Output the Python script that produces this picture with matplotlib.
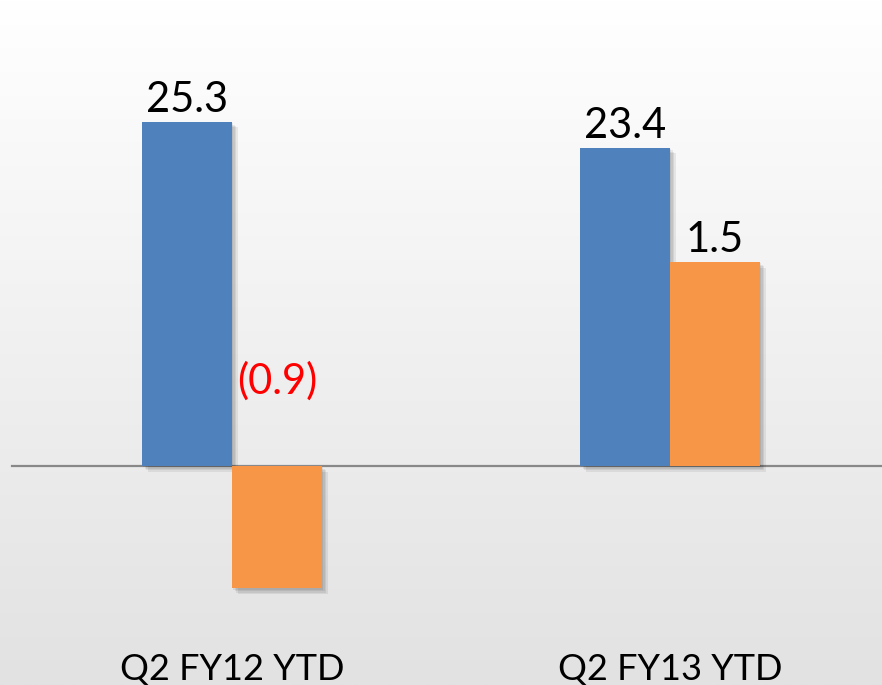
import numpy as np
import matplotlib
matplotlib.use('Agg')
import matplotlib.pyplot as plt
import matplotlib.patheffects as pe

# data
categories = ['Q2 FY12 YTD', 'Q2 FY13 YTD']
blue_vals = [25.3, 23.4]
orange_vals = [-0.9, 1.5]
blue_labels = ['25.3', '23.4']
orange_labels = ['(0.9)', '1.5']

BLUE = '#4f81bd'
ORANGE = '#f79646'

plt.rcParams['font.family'] = ['Lato', 'DejaVu Sans']

fig = plt.figure(figsize=(8.82, 6.85), dpi=100)

# gradient background
bg = fig.add_axes([0, 0, 1, 1], zorder=-10)
grad = np.linspace(1.0, 0.0, 256).reshape(-1, 1)
top, bot = np.array([255, 255, 255]) / 255, np.array([226, 226, 226]) / 255
img = bot + (top - bot) * grad[..., None]
bg.imshow(img, aspect='auto', extent=[0, 1, 0, 1])
bg.axis('off')

ax = fig.add_axes([0, 0, 1, 1])
ax2 = ax.twinx()
for a in (ax, ax2):
    a.patch.set_alpha(0)
    a.axis('off')

x = np.arange(len(categories))
w = 0.2055
ax.set_xlim(-0.5297, 1.484)
ax.set_ylim(-16.10, 34.26)
ax2.set_ylim(-1.610, 3.426)

# soft drop shadow, a few stacked faint layers
shadow = [pe.SimplePatchShadow(offset=(o, -o), shadow_rgbFace='black', alpha=0.07)
          for o in (1, 2, 3, 4)] + [pe.Normal()]

b1 = ax.bar(x - w / 2, blue_vals, w, color=BLUE, zorder=3)
b2 = ax2.bar(x + w / 2, orange_vals, w, color=ORANGE, zorder=3)
for r in list(b1) + list(b2):
    r.set_path_effects(shadow)

ax.axhline(0, xmin=12 / 882, xmax=1, color='#888888', lw=1.6, zorder=2)

# value labels
for xi, v, lab in zip(x, blue_vals, blue_labels):
    ax.annotate(lab, (xi - w / 2, v), xytext=(0, 7), textcoords='offset points',
                ha='center', va='baseline', fontsize=30, color='black')
for xi, v, lab in zip(x, orange_vals, orange_labels):
    if v < 0:
        ax2.annotate(lab, (xi + w / 2, 0), xytext=(0, 52), textcoords='offset points',
                     ha='center', va='baseline', fontsize=30, color='red')
    else:
        ax2.annotate(lab, (xi + w / 2, v), xytext=(0, 7), textcoords='offset points',
                     ha='center', va='baseline', fontsize=30, color='black')

# category labels
for xi, c in zip(x, categories):
    ax.text(xi, 5 / 685, c, transform=ax.get_xaxis_transform(),
            ha='center', va='baseline', fontsize=26, color='black')

fig.savefig('out.png', dpi=100)
